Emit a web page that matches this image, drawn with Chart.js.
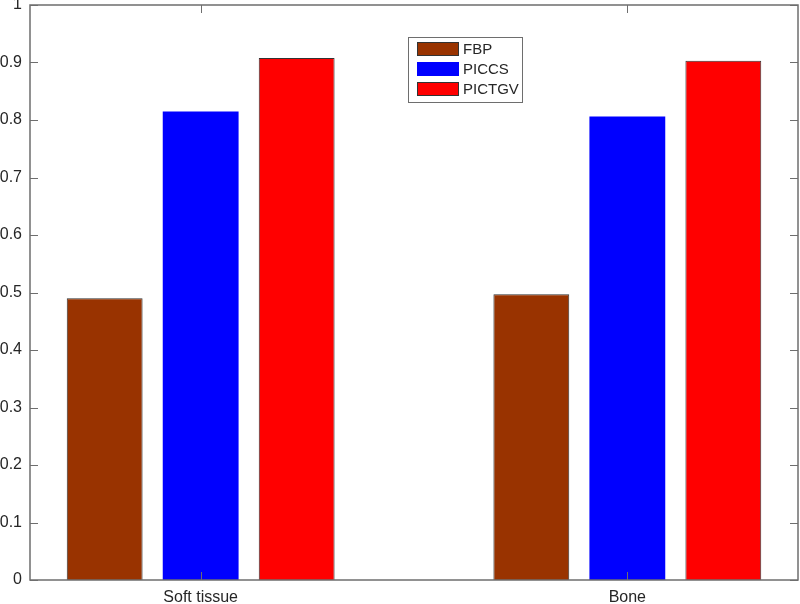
<!DOCTYPE html>
<html>
<head>
<meta charset="utf-8">
<script src="https://cdn.jsdelivr.net/npm/chart.js@4/dist/chart.umd.min.js"></script>
<style>
  html, body { margin: 0; padding: 0; background: #fff; }
  #wrap { width: 800px; height: 604px; }
</style>
</head>
<body>
<div id="wrap"><canvas id="barChart" width="800" height="604"></canvas></div>
<script>
const categories = ["Soft tissue", "Bone"];
const categoryPos = [1, 2];
const fbp = [0.49, 0.497];
const piccs = [0.815, 0.806];
const pictgv = [0.908, 0.903];
const yTicks = [0, 0.1, 0.2, 0.3, 0.4, 0.5, 0.6, 0.7, 0.8, 0.9, 1];

const FONT = "Arial, 'Liberation Sans', sans-serif";

function points(values) {
    return values.map((v, i) => ({ x: categoryPos[i], y: v }));
}

// box, inward tick marks, and legend inside the plot
const boxPlugin = {
    id: "boxPlugin",
    afterDraw(chart) {
        const ctx = chart.ctx;
        const a = chart.chartArea;
        const xs = chart.scales.x;
        const ys = chart.scales.y;
        const tl = 8;

        ctx.save();
        ctx.strokeStyle = "#6e6e6e";
        ctx.lineWidth = 1.5;
        ctx.strokeRect(a.left, a.top, a.right - a.left, a.bottom - a.top);

        ctx.lineWidth = 1;
        ctx.beginPath();
        yTicks.forEach(v => {
            const py = Math.round(ys.getPixelForValue(v)) + 0.5;
            ctx.moveTo(a.left, py); ctx.lineTo(a.left + tl, py);
            ctx.moveTo(a.right, py); ctx.lineTo(a.right - tl, py);
        });
        categoryPos.forEach(v => {
            const px = Math.round(xs.getPixelForValue(v)) + 0.5;
            ctx.moveTo(px, a.top); ctx.lineTo(px, a.top + tl);
            ctx.moveTo(px, a.bottom); ctx.lineTo(px, a.bottom - tl);
        });
        ctx.stroke();

        // legend
        const lx = 408, ly = 37, lw = 114, lh = 65;
        ctx.fillStyle = "#fff";
        ctx.fillRect(lx, ly, lw, lh);
        ctx.strokeStyle = "#6e6e6e";
        ctx.strokeRect(lx + 0.5, ly + 0.5, lw, lh);
        ctx.font = "15px " + FONT;
        ctx.textBaseline = "middle";
        chart.data.datasets.forEach((ds, i) => {
            const ry = ly + 5 + i * 20;
            ctx.fillStyle = ds.backgroundColor;
            ctx.fillRect(lx + 9, ry, 42, 14);
            if (ds.borderWidth > 0) {
                ctx.strokeStyle = "#333";
                ctx.strokeRect(lx + 9.5, ry + 0.5, 41, 13);
            }
            ctx.fillStyle = "#262626";
            ctx.fillText(ds.label, lx + 55, ry + 8);
        });
        ctx.restore();
    }
};

new Chart(
    document.getElementById("barChart"),
    {
        type: "bar",
        data: {
            datasets: [
                { label: "FBP", data: points(fbp), backgroundColor: "#993300", borderColor: "#333333", borderWidth: 1 },
                { label: "PICCS", data: points(piccs), backgroundColor: "#0000ff", borderColor: "#0000ff", borderWidth: 0 },
                { label: "PICTGV", data: points(pictgv), backgroundColor: "#ff0000", borderColor: "#333333", borderWidth: 1 }
            ]
        },
        options: {
            responsive: false,
            animation: false,
            layout: { padding: { top: 5, right: 2, left: 0, bottom: 0 } },
            datasets: {
                bar: { categoryPercentage: 0.675, barPercentage: 0.79 }
            },
            plugins: {
                legend: { display: false },
                tooltip: { enabled: false }
            },
            scales: {
                x: {
                    type: "linear",
                    min: 0.6,
                    max: 2.4,
                    offset: false,
                    grid: { display: false, drawTicks: false },
                    border: { display: false },
                    afterBuildTicks: s => { s.ticks = categoryPos.map(v => ({ value: v })); },
                    afterFit: s => { s.height = 24; s.paddingLeft = 0; s.paddingRight = 0; },
                    ticks: {
                        padding: 8,
                        maxRotation: 0,
                        color: "#262626",
                        font: { size: 16, family: FONT },
                        callback: v => categories[categoryPos.indexOf(v)] || ""
                    }
                },
                y: {
                    min: 0,
                    max: 1,
                    grid: { display: false, drawTicks: false },
                    border: { display: false },
                    afterBuildTicks: s => { s.ticks = yTicks.map(v => ({ value: v })); },
                    afterFit: s => { s.width = 30; s.paddingTop = 0; s.paddingBottom = 0; },
                    ticks: {
                        padding: 8,
                        color: "#262626",
                        font: { size: 16, family: FONT },
                        callback: v => String(Math.round(v * 10) / 10)
                    }
                }
            }
        },
        plugins: [boxPlugin]
    }
);
</script>
</body>
</html>
